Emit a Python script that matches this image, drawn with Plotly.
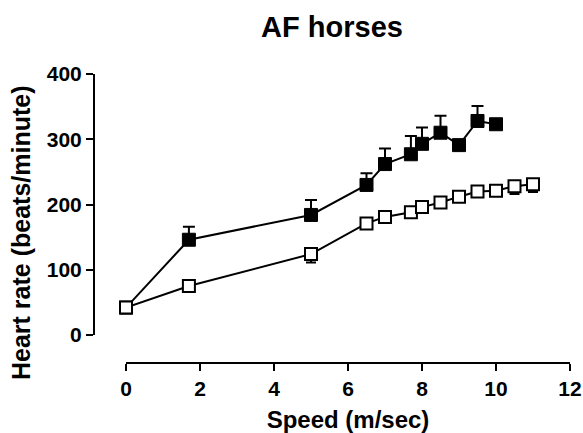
import plotly.graph_objects as go

speed_filled = [0, 1.7, 5, 6.5, 7, 7.7, 8, 8.5, 9, 9.5, 10]
hr_filled = [42, 146, 184, 230, 262, 277, 293, 310, 291, 328, 323]
err_filled = [0, 20, 23, 18, 24, 28, 25, 26, 0, 23, 0]

speed_open = [0, 1.7, 5, 6.5, 7, 7.7, 8, 8.5, 9, 9.5, 10, 10.5, 11]
hr_open = [42, 75, 124, 171, 181, 188, 196, 203, 212, 220, 221, 228, 231]
err_open = [0, 0, 13, 0, 0, 0, 0, 0, 0, 0, 0, 12, 12]

x_ticks = [0, 2, 4, 6, 8, 10, 12]
y_ticks = [0, 100, 200, 300, 400]

W, H = 583, 433
font_family = "Liberation Sans, Arial, sans-serif"

fig = go.Figure()
fig.add_trace(go.Scatter(
    x=speed_filled, y=hr_filled, mode="lines+markers",
    line=dict(color="black", width=2),
    marker=dict(symbol="square", size=13, color="black", line=dict(color="black", width=1)),
    error_y=dict(type="data", symmetric=False, array=err_filled,
                 arrayminus=[0] * len(err_filled), color="black", thickness=2, width=6),
    cliponaxis=False, showlegend=False,
))
fig.add_trace(go.Scatter(
    x=speed_open, y=hr_open, mode="lines+markers",
    line=dict(color="black", width=2),
    marker=dict(symbol="square", size=12, color="white", line=dict(color="black", width=2)),
    error_y=dict(type="data", symmetric=False, array=[0] * len(err_open),
                 arrayminus=err_open, color="black", thickness=2, width=5),
    cliponaxis=False, showlegend=False,
))

fig.update_layout(
    width=W, height=H,
    margin=dict(l=0, r=0, t=0, b=0),
    paper_bgcolor="white", plot_bgcolor="white",
    font=dict(family=font_family, color="black"),
    title=dict(text="<b>AF horses</b>", x=332 / W, xanchor="center",
               y=1 - 27 / H, yanchor="middle", yref="container",
               font=dict(size=29, family=font_family, color="black")),
    xaxis=dict(
        domain=[126 / W, 570 / W], range=[0, 12], automargin=False,
        anchor="free", position=(H - 363) / H,
        tickvals=x_ticks, ticktext=[f"<b>{t}</b>" for t in x_ticks],
        showline=True, linecolor="black", linewidth=2,
        ticks="outside", ticklen=7, tickwidth=2, tickcolor="black",
        showgrid=False, zeroline=False,
        tickfont=dict(size=21, family=font_family),
        title=dict(text="<b>Speed (m/sec)</b>", font=dict(size=24, family=font_family), standoff=13),
    ),
    yaxis=dict(
        domain=[(H - 335) / H, (H - 74) / H], range=[0, 400], automargin=False,
        anchor="free", position=94 / W,
        tickvals=y_ticks, ticktext=[f"<b>{t}</b>" for t in y_ticks],
        showline=True, linecolor="black", linewidth=2,
        ticks="outside", ticklen=7, tickwidth=2, tickcolor="black",
        showgrid=False, zeroline=False,
        tickfont=dict(size=21, family=font_family),
    ),
    annotations=[dict(
        text="<b>Heart rate (beats/minute)</b>", textangle=-90,
        xref="paper", yref="paper", x=21 / W, y=1 - 233 / H,
        xanchor="center", yanchor="middle", showarrow=False,
        font=dict(size=25, family=font_family, color="black"),
    )],
)

fig.write_html("out.html", config={"displayModeBar": False},
               post_script="document.body.style.margin='0px';document.body.style.overflow='hidden';")
